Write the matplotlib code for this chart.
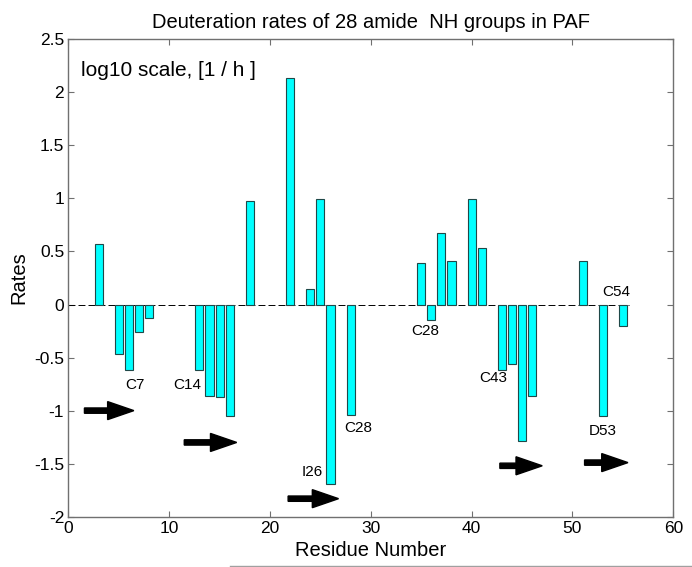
import numpy as np
import matplotlib
matplotlib.use("Agg")
import matplotlib.pyplot as plt
from matplotlib.lines import Line2D

plt.rcParams['font.family'] = ['Liberation Sans', 'DejaVu Sans']
plt.rcParams['lines.scale_dashes'] = False

# residue numbers and log10 deuteration rates
residues = [3, 5, 6, 7, 8, 13, 14, 15, 16, 18, 22, 24, 25, 26, 28,
            35, 36, 37, 38, 40, 41, 43, 44, 45, 46, 51, 53, 55]
rates = [0.57, -0.465, -0.62, -0.26, -0.125, -0.616, -0.86, -0.87, -1.05, 0.98,
         2.135, 0.145, 0.99, -1.69, -1.04,
         0.39, -0.145, 0.67, 0.41, 0.99, 0.535, -0.616, -0.56, -1.286, -0.865,
         0.41, -1.05, -0.205]

# residue labels (text, x, y)
lab_text = ["C7", "C14", "C28", "I26", "C28", "C43", "D53", "C54"]
lab_x = [6.6, 11.8, 28.8, 24.2, 35.4, 42.1, 53.0, 54.3]
lab_y = [-0.76, -0.76, -1.16, -1.58, -0.245, -0.69, -1.19, 0.115]

# beta strand arrows (start x, end x, y)
arr_x0 = [1.6, 11.5, 21.8, 42.8, 51.2]
arr_x1 = [6.5, 16.7, 26.8, 47.0, 55.5]
arr_y = [-1.0, -1.30, -1.83, -1.52, -1.49]

fig = plt.figure(figsize=(6.92, 5.67), dpi=100)
ax = fig.add_axes([0.0987, 0.0887, 0.8743, 0.842])

ax.bar(residues, rates, width=0.8, color='#00ffff', edgecolor='#1f4848', linewidth=0.8, zorder=3)
ax.plot([0, 55.6], [0, 0], color='black', linewidth=0.7, linestyle=(0, (5, 2.2)), zorder=2)

for t, x, y in zip(lab_text, lab_x, lab_y):
    ax.text(x, y, t, fontsize=11, ha='center', va='center')

for x0, x1, y in zip(arr_x0, arr_x1, arr_y):
    ax.arrow(x0, y, x1 - x0, 0, width=0.05, head_width=0.17, head_length=2.6,
             length_includes_head=True, color='black', zorder=4)

ax.text(1.3, 2.21, "log10 scale, [1 / h ]", fontsize=15, ha='left', va='center')

ax.set_xlim(0, 60)
ax.set_ylim(-2, 2.5)
ax.set_xticks(np.arange(0, 61, 10))
ax.set_yticks(np.arange(-2, 2.51, 0.5))
ax.set_yticklabels(['-2', '-1.5', '-1', '-0.5', '0', '0.5', '1', '1.5', '2', '2.5'])
ax.tick_params(direction='in', top=True, right=True, length=4, labelsize=12.5,
               color='#707070', pad=3)
for s in ax.spines.values():
    s.set_color('#707070')
    s.set_linewidth(1.0)

ax.set_title("Deuteration rates of 28 amide  NH groups in PAF", fontsize=14.5, pad=8)
ax.set_xlabel("Residue Number", fontsize=14.5, labelpad=4)
ax.set_ylabel("Rates", fontsize=14.5, labelpad=4)

# thin grey line at the bottom edge
fig.add_artist(Line2D([230 / 692, 1], [1.5 / 567, 1.5 / 567], color='#a0a0a0', linewidth=1))

fig.savefig("out.png", dpi=100)
